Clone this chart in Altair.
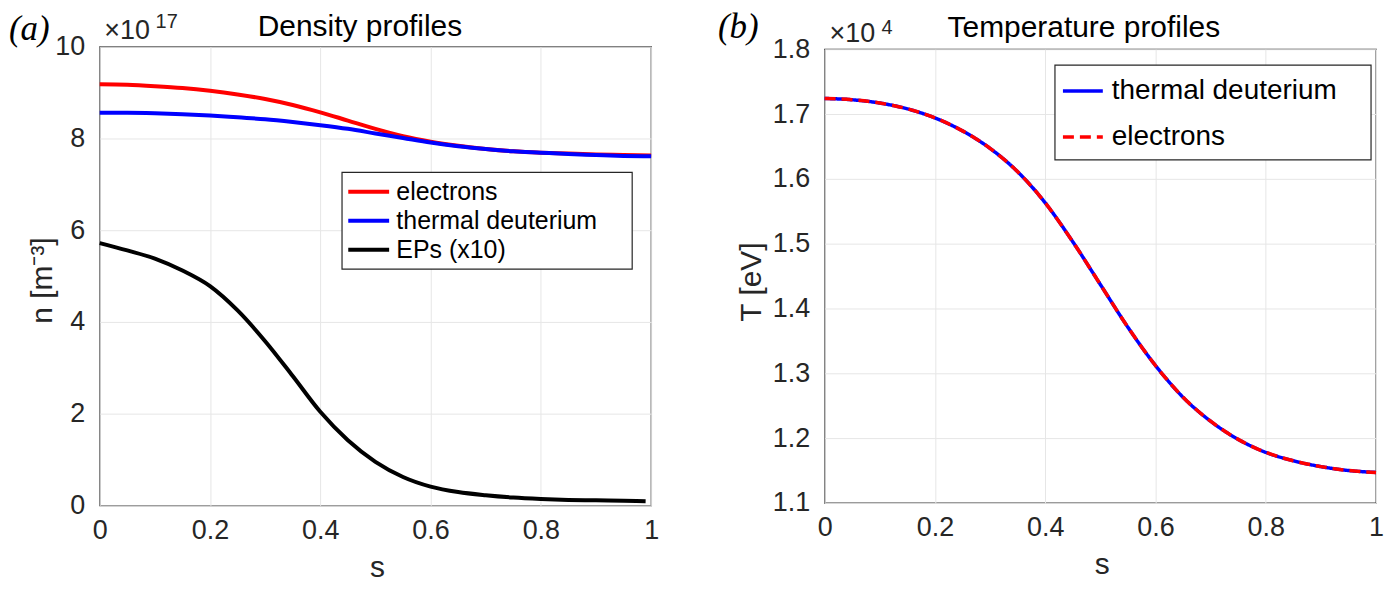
import altair as alt
import pandas as pd

FONT = "Liberation Sans"
SERIF = "Liberation Serif"
INK = "#262626"

# ---- density profiles (units of 1e17 m^-3) ----
s_n = [0, 0.05, 0.1, 0.15, 0.2, 0.25, 0.3, 0.35, 0.4, 0.45, 0.5,
       0.55, 0.6, 0.65, 0.7, 0.75, 0.8, 0.85, 0.9, 0.95, 1.0]
n_electrons = [9.18, 9.17, 9.14, 9.10, 9.04, 8.96, 8.86, 8.73, 8.57, 8.39, 8.21,
               8.05, 7.93, 7.84, 7.77, 7.72, 7.69, 7.67, 7.65, 7.64, 7.63]
n_deuterium = [8.56, 8.56, 8.55, 8.53, 8.50, 8.46, 8.42, 8.36, 8.29, 8.21, 8.11,
               8.01, 7.91, 7.83, 7.77, 7.72, 7.69, 7.66, 7.64, 7.62, 7.61]
s_ep = [0, 0.05, 0.1, 0.15, 0.2, 0.25, 0.3, 0.35, 0.4, 0.45, 0.5,
        0.55, 0.6, 0.65, 0.7, 0.75, 0.8, 0.85, 0.9, 0.95, 0.99]
n_ep = [5.72, 5.56, 5.38, 5.12, 4.78, 4.25, 3.58, 2.82, 2.04, 1.42, 0.95,
        0.62, 0.41, 0.29, 0.22, 0.17, 0.14, 0.12, 0.11, 0.10, 0.09]

# ---- temperature profiles (units of 1e4 eV) ----
s_T = [0, 0.05, 0.1, 0.15, 0.2, 0.25, 0.3, 0.35, 0.4, 0.45, 0.5,
       0.55, 0.6, 0.65, 0.7, 0.75, 0.8, 0.85, 0.9, 0.95, 1.0]
T_deuterium = [1.724, 1.722, 1.717, 1.708, 1.694, 1.674, 1.647, 1.611, 1.563, 1.503, 1.437,
               1.371, 1.312, 1.263, 1.226, 1.198, 1.178, 1.165, 1.156, 1.150, 1.147]
T_electrons = [1.724, 1.722, 1.717, 1.708, 1.694, 1.674, 1.647, 1.611, 1.563, 1.503, 1.437,
               1.371, 1.312, 1.263, 1.226, 1.198, 1.178, 1.165, 1.156, 1.150, 1.147]

dens_names = ["electrons", "thermal deuterium", "EPs (x10)"]
dens_colors = ["#ff0000", "#0000ff", "#000000"]
temp_names = ["thermal deuterium", "electrons"]
temp_colors = ["#0000ff", "#ff0000"]

dens_df = pd.concat([
    pd.DataFrame({"s": s_n, "n": n_electrons, "series": dens_names[0]}),
    pd.DataFrame({"s": s_n, "n": n_deuterium, "series": dens_names[1]}),
    pd.DataFrame({"s": s_ep, "n": n_ep, "series": dens_names[2]}),
])
temp_df = pd.concat([
    pd.DataFrame({"s": s_T, "T": T_deuterium, "series": temp_names[0]}),
    pd.DataFrame({"s": s_T, "T": T_electrons, "series": temp_names[1]}),
])

one_row = pd.DataFrame({"k": [0]})
W = 553


def label(text, x, y, size, font=FONT, style="normal", align="left", color="black"):
    return alt.Chart(one_row).mark_text(
        text=text, font=font, fontSize=size, fontStyle=style,
        align=align, baseline="alphabetic", color=color
    ).encode(x=alt.value(x), y=alt.value(y))


def frame(x0, x1, y0, y1):
    return alt.Chart(one_row).mark_rect(
        fill="white", stroke=INK, strokeWidth=1.2
    ).encode(x=alt.value(x0), x2=alt.value(x1), y=alt.value(y0), y2=alt.value(y1))


def s_axis():
    return alt.Axis(values=[0, 0.2, 0.4, 0.6, 0.8, 1], format="~g", title="s",
                    titleX=278, titleY=71, titleBaseline="alphabetic",
                    labelFlush=False, labelPadding=12)


def legend(x, y, size, font_size, width, row_pad, offset):
    return alt.Legend(title=None, orient="none", legendX=x, legendY=y,
                      direction="vertical", padding=0,
                      symbolType="M-1,0H3", symbolSize=size,
                      symbolStrokeWidth=width, labelOffset=offset,
                      labelFontSize=font_size, labelFont=FONT, labelColor="black",
                      labelLimit=500, rowPadding=row_pad)


# ---- panel (a) ----
dens_lines = alt.Chart(dens_df).mark_line(strokeWidth=4, interpolate="monotone").encode(
    x=alt.X("s:Q", scale=alt.Scale(domain=[0, 1], nice=False), axis=s_axis()),
    y=alt.Y("n:Q", scale=alt.Scale(domain=[0, 10], nice=False),
            axis=alt.Axis(values=[0, 2, 4, 6, 8, 10], title="n [m⁻³]",
                          titleX=-48, titleY=234, titleBaseline="alphabetic",
                          labelPadding=15)),
    color=alt.Color("series:N", sort=dens_names,
                    scale=alt.Scale(domain=dens_names, range=dens_colors),
                    legend=legend(247, 133, 420, 25, 4, 3, 25.5)),
)

panel_a = alt.layer(
    dens_lines,
    frame(243, 534, 126, 223),
    label("(a)", -91, -7, 35, font=SERIF, style="italic"),
    label("×10", 4.5, -7.7, 27, color=INK),
    label("17", 56, -18.5, 20, color=INK),
    label("Density profiles", 261, -11, 30, align="center"),
).properties(width=W, height=460)

# ---- panel (b) ----
temp_base = alt.Chart(temp_df).mark_line(strokeWidth=3.5, interpolate="monotone").encode(
    x=alt.X("s:Q", scale=alt.Scale(domain=[0, 1], nice=False), axis=s_axis()),
    y=alt.Y("T:Q", scale=alt.Scale(domain=[1.1, 1.8], nice=False, zero=False),
            axis=alt.Axis(values=[1.1, 1.2, 1.3, 1.4, 1.5, 1.6, 1.7, 1.8], format=".1f",
                          title="T [eV]", titleX=-64, titleY=233,
                          titleBaseline="alphabetic", labelPadding=15)),
    color=alt.Color("series:N", scale=alt.Scale(domain=temp_names, range=temp_colors),
                    legend=legend(235, 28, 400, 28, 3.5, 18, 25)),
    strokeDash=alt.StrokeDash("series:N",
                              scale=alt.Scale(domain=temp_names, range=[[1, 0], [11, 6]]),
                              legend=legend(235, 28, 400, 28, 3.5, 18, 25)),
)

panel_b = alt.layer(
    temp_base.transform_filter(alt.datum.series == temp_names[0]),
    temp_base.transform_filter(alt.datum.series == temp_names[1]),
    frame(231, 548, 16, 111),
    label("(b)", -107, -11, 35, font=SERIF, style="italic"),
    label("×10", 5, -7.7, 27, color=INK),
    label("4", 57, -15.7, 20, color=INK),
    label("Temperature profiles", 260, -12.4, 30, align="center"),
).properties(width=W, height=455)

chart = alt.hconcat(panel_a, panel_b, spacing=174, bounds="flush", center=True).resolve_scale(
    color="independent", strokeDash="independent"
).resolve_legend(
    color="independent", strokeDash="independent"
).properties(
    padding={"left": 0, "top": 0, "right": 0, "bottom": 0}
).configure_view(
    stroke=INK, strokeWidth=1.3
).configure_axis(
    grid=True, gridColor="#e6e6e6", gridWidth=1, domain=False, ticks=False,
    labelFont=FONT, labelFontSize=27, labelColor=INK, labelOverlap=False,
    titleFont=FONT, titleFontSize=30, titleColor=INK, titleFontWeight="normal"
)

chart.save("out.html", embed_options={"renderer": "svg", "actions": False})
